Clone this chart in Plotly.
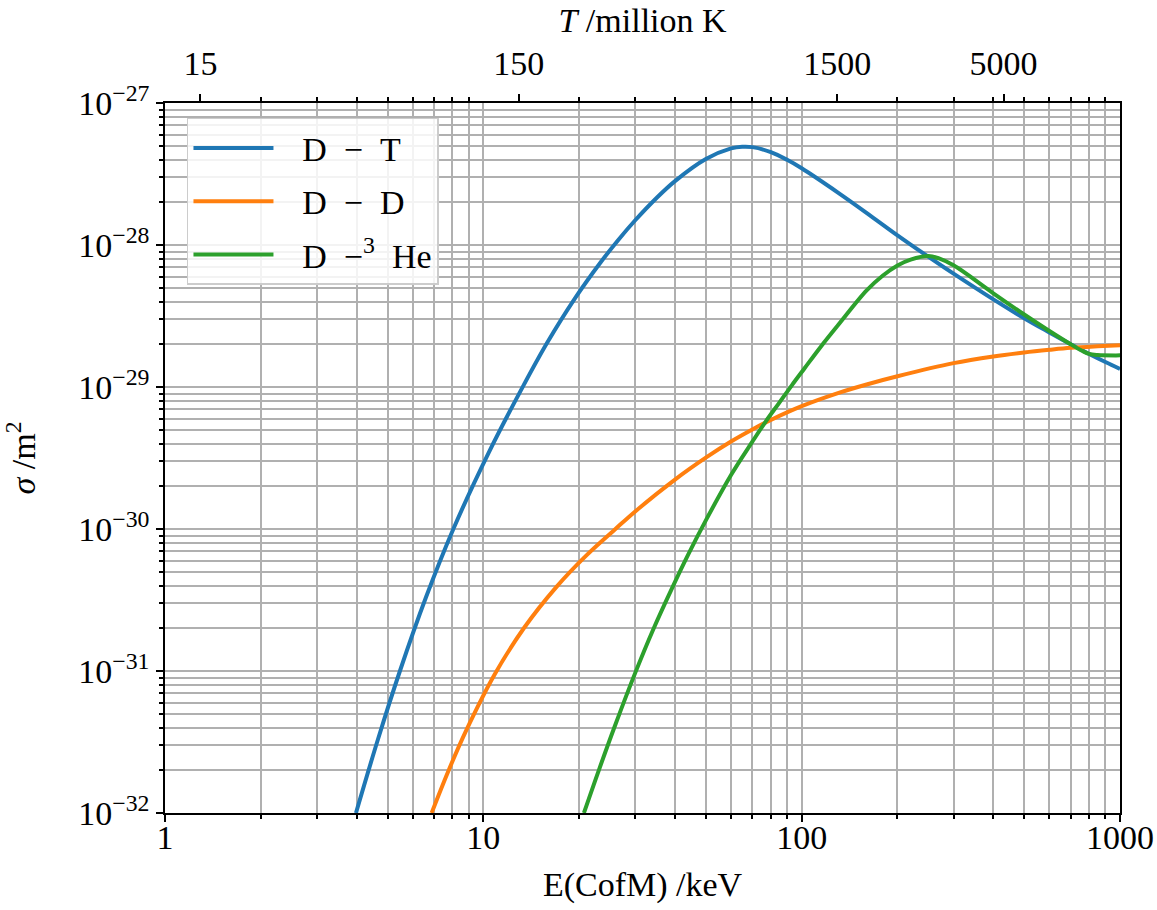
import plotly.graph_objects as go

# ---- data (E in keV, sigma in m^2) ----
E_DT = [3.98, 4.67, 5.47, 6.6, 8.05, 10.39, 13.4, 15.85, 19.4, 23.4, 26.5, 30, 35, 40, 50, 60, 65, 70, 80, 90,
        100, 130, 165, 200, 240, 300, 400, 500, 600, 700, 800, 900, 1000]
S_DT = [1.0e-32, 3.32e-32, 1.0e-31, 3.29e-31, 1.0e-30, 3.44e-30, 1.035e-29, 2.04e-29, 4.21e-29, 7.59e-29,
        1.081e-28, 1.493e-28, 2.143e-28, 2.818e-28, 4.03e-28, 4.786e-28, 4.92e-28, 4.89e-28, 4.51e-28, 3.98e-28,
        3.47e-28, 2.34e-28, 1.6e-28, 1.17e-28, 8.8e-29, 6.28e-29, 4.14e-29, 3.05e-29, 2.42e-29, 2.0e-29,
        1.71e-29, 1.5e-29, 1.34e-29]

E_DD = [6.88, 7.75, 8.8, 10.85, 13.4, 17, 21, 26, 30, 40, 50, 60, 70, 80, 100, 130, 160, 200, 300, 400, 500,
        600, 700, 850, 1000]
S_DD = [1.0e-32, 1.954e-32, 3.74e-32, 9.44e-32, 2.0e-31, 3.93e-31, 6.47e-31, 1.0e-30, 1.33e-30, 2.23e-30,
        3.18e-30, 4.13e-30, 5.02e-30, 5.86e-30, 7.33e-30, 9.06e-30, 1.042e-29, 1.19e-29, 1.472e-29, 1.64e-29,
        1.75e-29, 1.828e-29, 1.888e-29, 1.936e-29, 1.968e-29]

E_DHE = [20.7, 23.2, 26, 30, 34.2, 39.3, 44, 50, 60, 70, 77, 85, 93, 102, 115, 130, 160, 180, 200, 220, 250,
         270, 300, 400, 500, 600, 700, 760, 800, 850, 1000]
S_DHE = [1.0e-32, 2.08e-32, 4.2e-32, 9.7e-32, 1.97e-31, 3.9e-31, 6.6e-31, 1.15e-30, 2.4e-30, 4.12e-30,
         5.69e-30, 7.73e-30, 1.023e-29, 1.35e-29, 1.93e-29, 2.72e-29, 4.79e-29, 6.1e-29, 7.18e-29, 7.89e-29,
         8.36e-29, 8.04e-29, 7.19e-29, 4.57e-29, 3.24e-29, 2.48e-29, 2.0e-29, 1.8e-29, 1.71e-29, 1.68e-29,
         1.67e-29]

SERIES = ["\u2002\u2009D\u2002−\u2002T", "\u2002\u2009D\u2002−\u2002D", "\u2002\u2009D\u2002−<sup>3</sup>\u2002He"]
COLORS = ["#1f77b4", "#ff7f0e", "#2ca02c"]

X_TICKS = [1, 10, 100, 1000]
X_TICKTEXT = ["1", "10", "100", "1000"]
Y_TICKS = [1e-32, 1e-31, 1e-30, 1e-29, 1e-28, 1e-27]
Y_TICKTEXT = ["10<sup>−32</sup>", "10<sup>−31</sup>", "10<sup>−30</sup>", "10<sup>−29</sup>",
              "10<sup>−28</sup>", "10<sup>−27</sup>"]
T_TICKS_MK = [15, 150, 1500, 5000]          # million K
T_TICKTEXT = ["15", "150", "1500", "5000"]
MK_PER_KEV = 11.6045                         # million K per keV

x_minor = [k * 10 ** n for n in range(0, 3) for k in range(2, 10)]
y_minor = [k * 10.0 ** n for n in range(-32, -27) for k in range(2, 10)]
t_pos = [t / MK_PER_KEV for t in T_TICKS_MK]

FONT = "Liberation Serif"
GRID = "#b0b0b0"
FS = 34

fig = go.Figure()
for name, ex, sy, col in zip(SERIES, [E_DT, E_DD, E_DHE], [S_DT, S_DD, S_DHE], COLORS):
    fig.add_trace(go.Scatter(x=ex, y=sy, mode="lines", name=name,
                             line=dict(color=col, width=4, shape="spline", smoothing=1.0),
                             legendgroup=name))
# invisible trace so the top (temperature) axis is drawn
fig.add_trace(go.Scatter(x=[1, 1000], y=[1e-32, 1e-32], xaxis="x2", mode="markers",
                         marker=dict(opacity=0), showlegend=False, hoverinfo="skip"))

axis_common = dict(showline=True, linecolor="black", linewidth=1.5, ticks="outside", ticklen=7,
                   tickwidth=1.5, tickcolor="black", showgrid=True, gridcolor=GRID, gridwidth=1.5,
                   zeroline=False, tickfont=dict(family=FONT, size=FS, color="black"))

fig.update_layout(
    width=1157, height=910,
    margin=dict(l=165, r=37, t=103, b=97, autoexpand=False),
    paper_bgcolor="white", plot_bgcolor="white",
    font=dict(family=FONT, size=FS, color="black"),
    xaxis=dict(type="log", range=[0, 3], tickmode="array", tickvals=X_TICKS, ticktext=X_TICKTEXT,
               mirror=True, automargin=False, ticklabelstandoff=-14,
               minor=dict(tickmode="array", tickvals=x_minor, ticks="outside", ticklen=4,
                          tickcolor="black", showgrid=True, gridcolor=GRID, gridwidth=1.5),
               title=dict(text="E(CofM) /keV", font=dict(family=FONT, size=FS), standoff=18),
               **axis_common),
    xaxis2=dict(type="log", range=[0, 3], overlaying="x", side="top", anchor="y",
                tickmode="array", tickvals=t_pos, ticktext=T_TICKTEXT, automargin=False,
                ticklabelstandoff=6,
                showline=True, linecolor="black", linewidth=1.5, ticks="outside", ticklen=7,
                tickwidth=1.5, tickcolor="black", showgrid=False, zeroline=False,
                tickfont=dict(family=FONT, size=FS, color="black"),
                minor=dict(tickmode="array", tickvals=x_minor, ticks="outside", ticklen=4,
                           tickcolor="black", showgrid=False),
                title=dict(text="<i>T</i> /million K", font=dict(family=FONT, size=FS), standoff=2)),
    yaxis=dict(type="log", range=[-32, -27], tickmode="array", tickvals=Y_TICKS, ticktext=Y_TICKTEXT,
               mirror=True, automargin=False,
               minor=dict(tickmode="array", tickvals=y_minor, ticks="outside", ticklen=4,
                          tickcolor="black", showgrid=True, gridcolor=GRID, gridwidth=1.5),
               title=dict(text="<i>σ</i> /m<sup>2</sup>", font=dict(family=FONT, size=FS), standoff=36),
               **axis_common),
    legend=dict(x=0.023, y=0.979, xanchor="left", yanchor="top",
                bgcolor="rgba(255,255,255,0.85)", bordercolor="#cccccc", borderwidth=1.5,
                font=dict(family=FONT, size=FS, color="black"),
                traceorder="grouped", tracegroupgap=6, itemwidth=80),
    showlegend=True,
)

fig.write_html("out.html", config={"displayModeBar": False},
               post_script="document.body.style.margin='0px';document.body.style.overflow='hidden';")
